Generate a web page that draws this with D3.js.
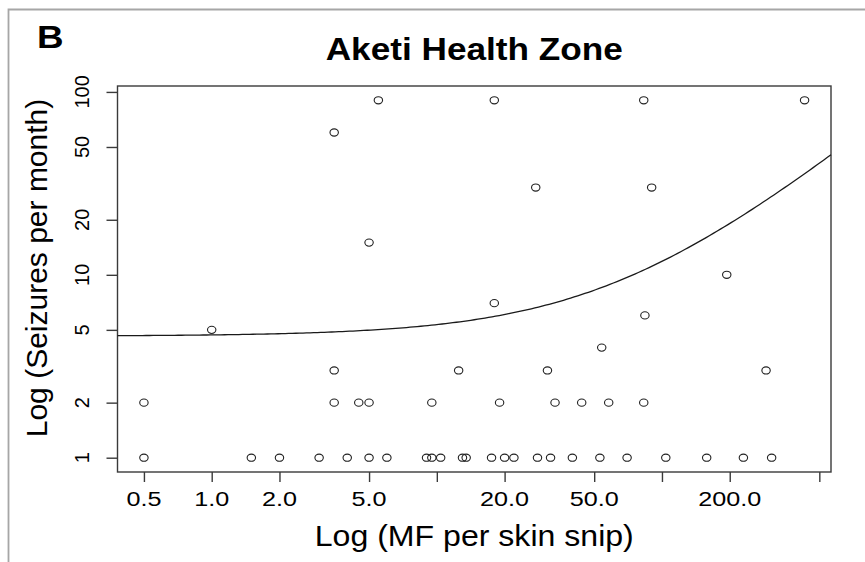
<!DOCTYPE html>
<html>
<head>
<meta charset="utf-8">
<script src="https://cdn.jsdelivr.net/npm/d3@7"></script>
<style>
  body { margin: 0; background: #fff; }
  svg { display: block; }
  text { font-family: "Liberation Sans", Arial, sans-serif; fill: #000; }
</style>
</head>
<body>
<div id="chart"></div>
<script>
// MF per skin snip (x) and seizures per month (y)
const mfPerSnip = [
  0.5, 1.5, 2, 3, 4, 5, 6, 9, 9.5, 10.4, 13, 13.5, 17.5, 20, 22, 28, 32, 40, 53, 70, 104, 158, 230, 307,
  0.5, 3.5, 4.5, 5, 9.5, 19, 33.5, 44, 58, 83,
  3.5, 12.5, 31, 290,
  54, 1, 84, 18, 194, 5,
  27.5, 90, 3.5,
  5.5, 18, 83, 430
];
const seizuresPerMonth = [
  1, 1, 1, 1, 1, 1, 1, 1, 1, 1, 1, 1, 1, 1, 1, 1, 1, 1, 1, 1, 1, 1, 1, 1,
  2, 2, 2, 2, 2, 2, 2, 2, 2, 2,
  3, 3, 3, 3,
  4, 5, 6, 7, 10, 15,
  30, 30, 60,
  90, 90, 90, 90
];

const xTicks = [0.5, 1, 2, 5, 10, 20, 50, 100, 200, 500];
const xTickLabels = ["0.5", "1.0", "2.0", "5.0", "", "20.0", "50.0", "", "200.0", ""];
const yTicks = [1, 2, 5, 10, 20, 50, 100];

// fitted line (linear in original units)
const fitIntercept = 4.62;
const fitSlope = 0.0723;

const width = 865, height = 562;
const box = { left: 117.5, right: 831, top: 86, bottom: 472 };

const svg = d3.select("#chart").append("svg")
  .attr("width", width)
  .attr("height", height);

// outer frame of the figure panel
svg.append("path")
  .attr("d", `M8.5,${height} V9.5 H${width}`)
  .attr("fill", "none")
  .attr("stroke", "#a6a6a6")
  .attr("stroke-width", 1.8);

// R-style 4% padding of the log range
function padLog(ext) {
  const r = Math.pow(ext[1] / ext[0], 0.04);
  return [ext[0] / r, ext[1] * r];
}

const x = d3.scaleLog()
  .domain(padLog(d3.extent(mfPerSnip)))
  .range([box.left, box.right]);

const y = d3.scaleLog()
  .domain(padLog(d3.extent(seizuresPerMonth)))
  .range([box.bottom, box.top]);

const axisColor = "#3a3a3a";

// plot box
svg.append("rect")
  .attr("x", box.left)
  .attr("y", box.top)
  .attr("width", box.right - box.left)
  .attr("height", box.bottom - box.top)
  .attr("fill", "none")
  .attr("stroke", axisColor)
  .attr("stroke-width", 1.4);

// x axis
const xAxis = svg.append("g")
  .attr("transform", `translate(0,${box.bottom})`)
  .call(d3.axisBottom(x).tickValues(xTicks).tickSize(10).tickFormat(""));
xAxis.select(".domain").remove();
xAxis.selectAll("line").attr("stroke", axisColor).attr("stroke-width", 1.4);

svg.append("g")
  .selectAll("text")
  .data(xTicks.map((v, i) => ({ v, label: xTickLabels[i] })).filter((d) => d.label))
  .join("text")
  .attr("transform", (d) => `translate(${x(d.v)},506) scale(1.2,1)`)
  .attr("text-anchor", "middle")
  .style("font-size", "21px")
  .text((d) => d.label);

// y axis
const yAxis = svg.append("g")
  .attr("transform", `translate(${box.left},0)`)
  .call(d3.axisLeft(y).tickValues(yTicks).tickSize(11).tickFormat(""));
yAxis.select(".domain").remove();
yAxis.selectAll("line").attr("stroke", axisColor).attr("stroke-width", 1.4);

svg.append("g")
  .selectAll("text")
  .data(yTicks)
  .join("text")
  .attr("transform", (d) => `translate(89,${y(d)}) rotate(-90)`)
  .attr("text-anchor", "middle")
  .style("font-size", "20px")
  .text((d) => d);

// fitted line
const xs = d3.range(0, 201).map((i) => {
  const [a, b] = x.domain();
  return a * Math.pow(b / a, i / 200);
});
svg.append("path")
  .datum(xs)
  .attr("fill", "none")
  .attr("stroke", "#1a1a1a")
  .attr("stroke-width", 1.3)
  .attr("d", d3.line()
    .x((v) => x(v))
    .y((v) => y(fitIntercept + fitSlope * v)));

// points
svg.append("g")
  .selectAll("ellipse")
  .data(mfPerSnip.map((v, i) => [v, seizuresPerMonth[i]]))
  .join("ellipse")
  .attr("cx", (d) => x(d[0]))
  .attr("cy", (d) => y(d[1]))
  .attr("rx", 4.2)
  .attr("ry", 3.6)
  .attr("fill", "none")
  .attr("stroke", "#222")
  .attr("stroke-width", 1.1);

// titles
svg.append("text")
  .attr("transform", "translate(37,48) scale(1.15,1)")
  .style("font-size", "32px")
  .style("font-weight", "bold")
  .text("B");

svg.append("text")
  .attr("transform", `translate(${(box.left + box.right) / 2},60) scale(1.1,1)`)
  .attr("text-anchor", "middle")
  .style("font-size", "32px")
  .style("font-weight", "bold")
  .text("Aketi Health Zone");

svg.append("text")
  .attr("transform", `translate(${(box.left + box.right) / 2},546) scale(1.07,1)`)
  .attr("text-anchor", "middle")
  .style("font-size", "30px")
  .text("Log (MF per skin snip)");

svg.append("text")
  .attr("transform", "translate(47,268) rotate(-90)")
  .attr("text-anchor", "middle")
  .style("font-size", "30px")
  .text("Log (Seizures per month)");
</script>
</body>
</html>
